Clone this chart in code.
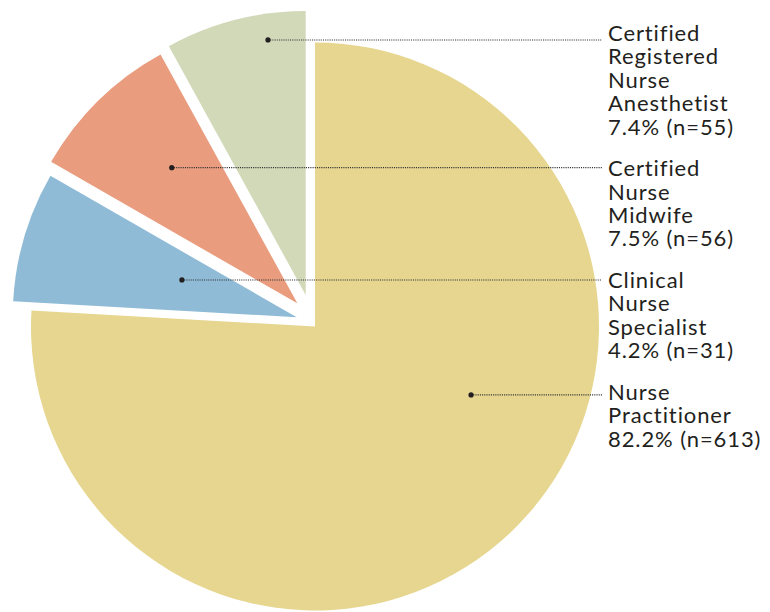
<!DOCTYPE html>
<html>
<head>
<meta charset="utf-8">
<script src="https://cdn.jsdelivr.net/npm/d3@7"></script>
<style>
  body { margin: 0; background: #fff; }
  svg { display: block; }
</style>
</head>
<body>
<div id="chart"></div>
<script>
// slices, clockwise from 12 o'clock
const roles = ['Nurse Practitioner', 'Clinical Nurse Specialist', 'Certified Nurse Midwife', 'Certified Registered Nurse Anesthetist'];
const percents = [82.2, 4.2, 7.5, 7.4];
const counts = [613, 31, 56, 55];
// share of the circle each slice takes as drawn in the picture
const shares = [75.9, 7.4, 8.7, 8.0];
const colors = ['#e6d690', '#8fbbd6', '#e99c7e', '#d2d9b9'];

const width = 770;
const height = 612;
const cx = 315; // centre of the big slice
const cy = 326.5;
const radius = 284;
const labelX = 608;
const lineHeight = 23.4;
const fontFamily = 'Lato, "Noto Sans", sans-serif';
const textColor = '#231f20';

// how far each slice edge is pushed off its neighbour [start edge, end edge]
const edgeGaps = [[0, 0], [8.2, 1.1], [11.3, 4.3], [7.0, 9.3]];
// where the leader dot sits inside a slice: [fraction of the angle, fraction of the radius]
const dotPos = [[0.416, 0.6], [0.554, 0.425], [0.553, 0.651], [0.708, 0.908]];
// first label baseline relative to the leader
const labelLift = [5, 8, 8.5, 1];

const data = roles.map((role, i) => ({
  role,
  percent: percents[i],
  count: counts[i],
  share: shares[i],
  color: colors[i],
  index: i
}));

// solve the shift that moves both edges of a slice outwards by the given gaps
function explode(d) {
  const [g0, g1] = edgeGaps[d.index];
  if (!g0 && !g1) return [0, 0];
  const a = d.startAngle, b = d.endAngle;
  const n0 = [Math.cos(a), Math.sin(a)];
  const n1 = [-Math.cos(b), -Math.sin(b)];
  const det = n0[0] * n1[1] - n0[1] * n1[0];
  return [(g0 * n1[1] - n0[1] * g1) / det, (n0[0] * g1 - g0 * n1[0]) / det];
}

const svg = d3
  .select('#chart')
  .append('svg')
  .attr('width', width)
  .attr('height', height);

const pie = d3
  .pie()
  .sort(null)
  .value(d => d.share);

const arc = d3
  .arc()
  .innerRadius(0)
  .outerRadius(radius);

const pieData = pie(data);
pieData.forEach(d => {
  d.shift = explode(d);
  const [t, k] = dotPos[d.index];
  const ang = d.startAngle + t * (d.endAngle - d.startAngle);
  d.dot = [cx + d.shift[0] + Math.sin(ang) * k * radius, cy + d.shift[1] - Math.cos(ang) * k * radius];
});

const g = svg.append('g').attr('transform', `translate(${cx},${cy})`);

g.selectAll('path')
  .data(pieData)
  .enter()
  .append('path')
  .attr('transform', d => `translate(${d.shift[0]},${d.shift[1]})`)
  .attr('d', arc)
  .attr('fill', d => d.data.color);

// leaders
svg
  .selectAll('.leader')
  .data(pieData)
  .enter()
  .append('line')
  .attr('class', 'leader')
  .attr('x1', d => d.dot[0])
  .attr('x2', labelX - 6)
  .attr('y1', d => d.dot[1])
  .attr('y2', d => d.dot[1])
  .attr('stroke', '#333')
  .attr('stroke-width', 1.1)
  .attr('stroke-dasharray', '1.1 1.1');

svg
  .selectAll('.dot')
  .data(pieData)
  .enter()
  .append('circle')
  .attr('class', 'dot')
  .attr('cx', d => d.dot[0])
  .attr('cy', d => d.dot[1])
  .attr('r', 2.6)
  .attr('fill', textColor);

// labels: one word per line, then the percent line
const labels = svg
  .selectAll('.label')
  .data(pieData)
  .enter()
  .append('text')
  .attr('class', 'label')
  .attr('x', labelX)
  .attr('y', d => d.dot[1] + labelLift[d.index])
  .style('font-family', fontFamily)
  .style('font-size', '22px')
  .style('letter-spacing', '0.9px')
  .style('fill', textColor);

labels
  .selectAll('tspan')
  .data(d => d.data.role.split(' ').concat(`${d.data.percent}% (n=${d.data.count})`))
  .enter()
  .append('tspan')
  .attr('x', labelX)
  .attr('dy', (t, i) => (i ? lineHeight : 0))
  .text(t => t);
</script>
</body>
</html>
